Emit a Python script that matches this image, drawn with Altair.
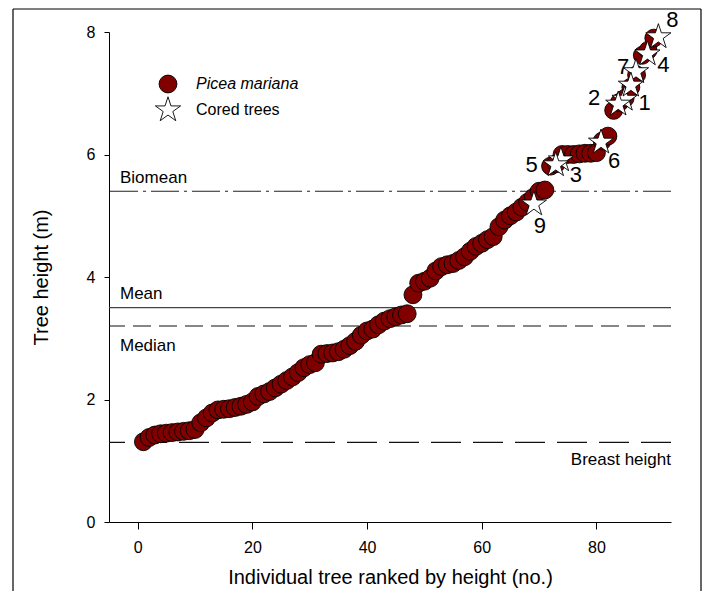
import altair as alt
import pandas as pd

# ---------------- data ----------------
rank = list(range(1, 91))
height = [1.31, 1.38, 1.42, 1.44, 1.45, 1.46, 1.47, 1.48, 1.49, 1.51,
          1.62, 1.70, 1.78, 1.83, 1.84, 1.85, 1.87, 1.89, 1.92, 1.96,
          2.05, 2.09, 2.13, 2.19, 2.25, 2.31, 2.37, 2.44, 2.52, 2.57,
          2.60, 2.74, 2.75, 2.76, 2.78, 2.82, 2.88, 2.95, 3.05, 3.12,
          3.15, 3.22, 3.28, 3.32, 3.35, 3.38, 3.40, 3.71, 3.90, 3.93,
          3.98, 4.10, 4.17, 4.20, 4.22, 4.27, 4.33, 4.42, 4.50, 4.55,
          4.61, 4.66, 4.82, 4.93, 5.00, 5.06, 5.14, 5.22, 5.30, 5.40,
          5.42, 5.81, 5.85, 6.00, 6.00, 6.00, 6.01, 6.02, 6.02, 6.03,
          6.22, 6.30, 6.72, 6.85, 6.92, 7.10, 7.30, 7.62, 7.70, 7.90]

cored_rank = [84.9, 83.8, 73.8, 88.9, 72.9, 80.8, 86.9, 90.8, 69.1, 86.0]
cored_height = [6.90, 6.82, 5.91, 7.64, 5.83, 6.20, 7.35, 7.92, 5.19, 7.13]
cored_label = ["1", "2", "3", "4", "5", "6", "7", "8", "9", ""]

ref_names = ["Biomean", "Mean", "Median", "Breast height"]
ref_values = [5.4, 3.5, 3.2, 1.3]

x_ticks = [0, 20, 40, 60, 80]
y_ticks = [0, 2, 4, 6, 8]

# ---------------- styles ----------------
FONT = "Liberation Sans"
W, H = 562, 490
MAROON = "#800000"
STAR = ("M0,-1L0.225,-0.309L0.951,-0.309L0.363,0.118L0.588,0.809L0,0.382"
        "L-0.588,0.809L-0.363,0.118L-0.951,-0.309L-0.225,-0.309Z")
STAR_SIZE = 700

ref_style = {
    "Biomean": dict(strokeDash=[28, 5, 3, 5], color="#222222"),
    "Mean": dict(color="#444444"),
    "Median": dict(strokeDash=[18, 8], color="#111111"),
    "Breast height": dict(strokeDash=[30, 12], color="#111111"),
}
ref_label_pos = {
    "Biomean": dict(x=11, dy=-13, align="left"),
    "Mean": dict(x=11, dy=-14, align="left"),
    "Median": dict(x=11, dy=20, align="left"),
    "Breast height": dict(x=W, dy=18, align="right"),
}
label_offsets = {
    "1": (20, 4), "2": (-24, -6), "3": (15, 15), "4": (16, 11), "5": (-24, 0),
    "6": (13, 19), "7": (-13, -5), "8": (14, -17), "9": (6, 22),
}

trees = pd.DataFrame({"rank": rank, "height": height})
cored = pd.DataFrame({"rank": cored_rank, "height": cored_height, "label": cored_label})

xscale = alt.Scale(domain=[-5, 93], nice=False, zero=False)
yscale = alt.Scale(domain=[0, 8], nice=False, zero=False)

xaxis = alt.Axis(values=x_ticks, format="d", tickSize=7, labelPadding=10, labelFontSize=16,
                 titleFontSize=20, titlePadding=12, grid=False,
                 title="Individual tree ranked by height (no.)")
yaxis = alt.Axis(values=y_ticks, format="d", tickSize=5, labelPadding=9, labelFontSize=16,
                 titleFontSize=20, titlePadding=35, grid=False,
                 title="Tree height (m)")

layers = []

# reference lines and their labels
for n, v in zip(ref_names, ref_values):
    d = pd.DataFrame({"name": [n], "value": [v]})
    layers.append(alt.Chart(d).mark_rule(strokeWidth=1.2, **ref_style[n]).encode(
        y=alt.Y("value:Q", scale=yscale, axis=yaxis)))
    p = ref_label_pos[n]
    layers.append(alt.Chart(d).mark_text(align=p["align"], baseline="middle", dy=p["dy"],
                                         fontSize=17, font=FONT, color="black").encode(
        x=alt.value(p["x"]), y=alt.Y("value:Q", scale=yscale), text="name:N"))

# trees
layers.append(alt.Chart(trees).mark_circle(size=320, color=MAROON, opacity=1,
                                           stroke="black", strokeWidth=0.9).encode(
    x=alt.X("rank:Q", scale=xscale, axis=xaxis),
    y=alt.Y("height:Q", scale=yscale, axis=yaxis)))

# cored trees
layers.append(alt.Chart(cored).mark_point(shape=STAR, size=STAR_SIZE, filled=True, fill="white",
                                          opacity=1, stroke="black", strokeWidth=0.9).encode(
    x=alt.X("rank:Q", scale=xscale), y=alt.Y("height:Q", scale=yscale)))

for lab, (dx, dy) in label_offsets.items():
    layers.append(alt.Chart(cored).transform_filter(alt.datum.label == lab).mark_text(
        dx=dx, dy=dy, fontSize=22, font=FONT, color="black", align="center",
        baseline="middle").encode(
        x=alt.X("rank:Q", scale=xscale), y=alt.Y("height:Q", scale=yscale), text="label:N"))

# legend (drawn manually)
one = pd.DataFrame({"k": [0]})
layers.append(alt.Chart(one).mark_circle(size=320, color=MAROON, opacity=1, stroke="black",
                                         strokeWidth=0.9).encode(x=alt.value(59), y=alt.value(52)))
layers.append(alt.Chart(one).mark_point(shape=STAR, size=STAR_SIZE, filled=True, fill="white",
                                        opacity=1, stroke="black", strokeWidth=0.9).encode(
    x=alt.value(59), y=alt.value(78)))
layers.append(alt.Chart(one).mark_text(text="Picea mariana", fontStyle="italic", fontSize=16,
                                       font=FONT, align="left", baseline="middle").encode(
    x=alt.value(87), y=alt.value(52)))
layers.append(alt.Chart(one).mark_text(text="Cored trees", fontSize=16, font=FONT,
                                       align="left", baseline="middle").encode(
    x=alt.value(87), y=alt.value(78)))

# outer frame
for enc in [dict(x=alt.value(-96), y=alt.value(-23), y2=alt.value(560)),
            dict(x=alt.value(592), y=alt.value(-23), y2=alt.value(560)),
            dict(x=alt.value(-96), x2=alt.value(592), y=alt.value(-23))]:
    layers.append(alt.Chart(one).mark_rule(color="black", strokeWidth=1.2).encode(**enc))

chart = alt.layer(*layers).properties(
    width=W, height=H,
    autosize=alt.AutoSizeParams(type="none"),
    padding={"left": 101, "top": 24, "right": 31, "bottom": 69},
).configure_view(stroke=None).configure_axis(
    domainColor="black", tickColor="black", labelColor="black", titleColor="black",
    labelFont=FONT, titleFont=FONT, titleFontWeight="normal", domainWidth=1, tickWidth=1,
)

chart.save("out.html", embed_options={"renderer": "svg", "actions": False})
